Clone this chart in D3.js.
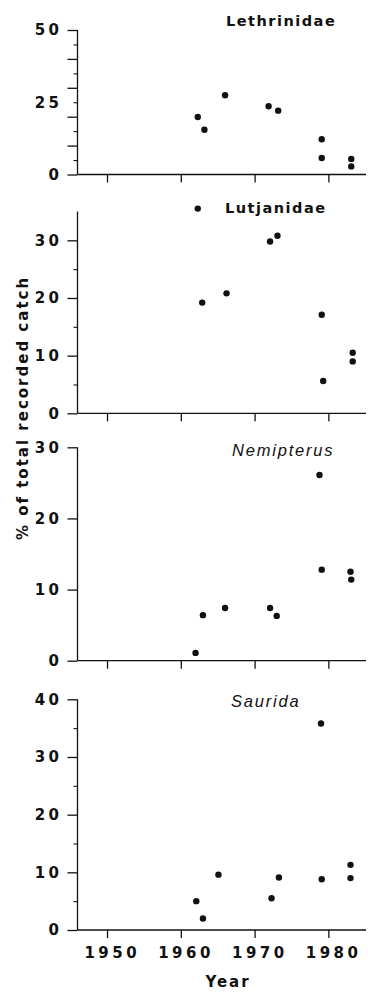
<!DOCTYPE html>
<html>
<head>
<meta charset="utf-8">
<script src="https://cdn.jsdelivr.net/npm/d3@7"></script>
<style>
  html, body { margin: 0; padding: 0; background: #fff; }
  svg { display: block; }
  text { fill: #111; }
</style>
</head>
<body>
<svg id="chart" width="368" height="994"></svg>
<script>
// ---- data ----
const xTicks = [1950, 1960, 1970, 1980];
const xTickLabels = ["1950", "1960", "1970", "1980"];
const xLabel = "Year";
const yLabel = "% of total recorded catch";

const panelNames = ["Lethrinidae", "Lutjanidae", "Nemipterus", "Saurida"];

const lethYears = [1962.3, 1963.2, 1966.0, 1971.9, 1973.2, 1979.1, 1979.1, 1983.1, 1983.1];
const lethVals  = [19.9, 15.5, 27.4, 23.6, 22.1, 12.2, 5.7, 5.4, 2.8];

const lutYears = [1962.3, 1962.9, 1966.2, 1972.1, 1973.1, 1979.1, 1979.3, 1983.3, 1983.3];
const lutVals  = [35.5, 19.2, 20.8, 29.8, 30.8, 17.1, 5.6, 10.5, 9.0];

const nemYears = [1962.0, 1963.0, 1966.0, 1972.1, 1973.0, 1978.8, 1979.1, 1983.0, 1983.1];
const nemVals  = [1.1, 6.4, 7.4, 7.4, 6.3, 26.1, 12.8, 12.5, 11.4];

const saurYears = [1962.1, 1963.0, 1965.1, 1972.3, 1973.3, 1979.0, 1979.1, 1983.0, 1983.0];
const saurVals  = [5.0, 2.0, 9.6, 5.5, 9.1, 35.8, 8.8, 11.3, 9.0];

const lethYMax = 50, lutYMax = 35, nemYMax = 30, saurYMax = 40;
const lethMajor = [0, 10, 20, 30, 40, 50], lethMinor = [5, 15, 25, 35, 45], lethLabels = [0, 25, 50];
const lutMajor = [0, 10, 20, 30], lutMinor = [5, 15, 25], lutLabels = [0, 10, 20, 30];
const nemMajor = [0, 10, 20, 30], nemMinor = [], nemLabels = [0, 10, 20, 30];
const saurMajor = [0, 10, 20, 30, 40], saurMinor = [5, 15, 25, 35], saurLabels = [0, 10, 20, 30, 40];

// ---- layout ----
const svg = d3.select("#chart");
const axisX0 = 77.5, axisX1 = 366;
const x = d3.scaleLinear().domain([1946, 1985.1]).range([axisX0, axisX1]);

const panels = [
  { name: panelNames[0], years: lethYears, vals: lethVals, ymax: lethYMax, major: lethMajor, minor: lethMinor, labels: lethLabels,
    y0: 174.5, y1: 30, italic: false, titleX: 226, titleY: 25.5 },
  { name: panelNames[1], years: lutYears, vals: lutVals, ymax: lutYMax, major: lutMajor, minor: lutMinor, labels: lutLabels,
    y0: 413.3, y1: 211.5, italic: false, titleX: 225, titleY: 213 },
  { name: panelNames[2], years: nemYears, vals: nemVals, ymax: nemYMax, major: nemMajor, minor: nemMinor, labels: nemLabels,
    y0: 660.7, y1: 447.3, italic: true, titleX: 232, titleY: 455.5 },
  { name: panelNames[3], years: saurYears, vals: saurVals, ymax: saurYMax, major: saurMajor, minor: saurMinor, labels: saurLabels,
    y0: 930, y1: 699.3, italic: true, titleX: 231, titleY: 707 }
];

const ink = "#111";
const numFont = "DejaVu Sans";
const numSize = 15;
const numLS = 3.5;

panels.forEach((p, i) => {
  const y = d3.scaleLinear().domain([0, p.ymax]).range([p.y0, p.y1]);
  const g = svg.append("g");

  // x axis
  const xa = g.append("g").attr("transform", `translate(0,${p.y0})`)
    .call(d3.axisBottom(x).tickValues(xTicks).tickSize(8).tickPadding(9.5)
      .tickFormat((d, k) => i === panels.length - 1 ? xTickLabels[k] : ""));
  xa.select(".domain").attr("d", `M${axisX0},0H${axisX1}`);
  xa.selectAll("path, line").attr("stroke", ink).attr("stroke-width", 1.3);
  xa.selectAll("text").attr("font-family", numFont).attr("font-size", numSize).attr("font-weight", "bold")
    .attr("letter-spacing", numLS).attr("dx", numLS / 2 + 3).attr("fill", ink);

  // y axis: major ticks
  const ya = g.append("g").attr("transform", `translate(${axisX0},0)`)
    .call(d3.axisLeft(y).tickValues(p.major).tickSize(10).tickFormat(""));
  ya.select(".domain").attr("d", `M0,${p.y1}V${p.y0}`);
  ya.selectAll("path, line").attr("stroke", ink).attr("stroke-width", 1.3);

  // minor ticks
  if (p.minor.length) {
    const ym = g.append("g").attr("transform", `translate(${axisX0},0)`)
      .call(d3.axisLeft(y).tickValues(p.minor).tickSize(4).tickFormat(""));
    ym.select(".domain").remove();
    ym.selectAll("line").attr("stroke", ink).attr("stroke-width", 1.1);
  }

  // labels
  const yl = g.append("g").attr("transform", `translate(${axisX0},0)`)
    .call(d3.axisLeft(y).tickValues(p.labels).tickSize(0).tickPadding(18.5 - numLS));
  yl.select(".domain").remove();
  yl.selectAll("line").remove();
  yl.selectAll("text").attr("font-family", numFont).attr("font-size", numSize).attr("font-weight", "bold")
    .attr("letter-spacing", numLS).attr("fill", ink);

  // points
  g.selectAll("circle").data(p.years.map((yr, k) => [yr, p.vals[k]])).enter()
    .append("circle")
    .attr("cx", d => x(d[0]))
    .attr("cy", d => y(d[1]))
    .attr("r", 3.2)
    .attr("fill", ink);

  // title
  g.append("text")
    .attr("x", p.titleX).attr("y", p.titleY)
    .attr("font-family", p.italic ? "Liberation Sans" : "DejaVu Sans")
    .attr("font-size", p.italic ? 16.5 : 14.5)
    .attr("font-style", p.italic ? "italic" : "normal")
    .attr("font-weight", p.italic ? "normal" : "bold")
    .attr("letter-spacing", p.italic ? 1.8 : 1.5)
    .attr("fill", ink)
    .text(p.name);
});

// axis titles
svg.append("text")
  .attr("x", 228).attr("y", 986.5)
  .attr("text-anchor", "middle")
  .attr("font-family", "DejaVu Sans").attr("font-size", 15).attr("font-weight", "bold")
  .attr("letter-spacing", 2).attr("fill", ink)
  .text(xLabel);

svg.append("text")
  .attr("transform", "translate(28,408) rotate(-90)")
  .attr("text-anchor", "middle")
  .attr("font-family", "DejaVu Sans").attr("font-size", 15).attr("font-weight", "bold")
  .attr("letter-spacing", 2).attr("fill", ink)
  .text(yLabel);
</script>
</body>
</html>
